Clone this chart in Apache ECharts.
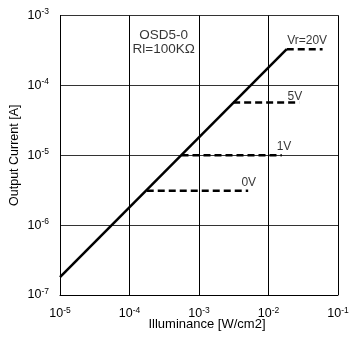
<!DOCTYPE html>
<html><head><meta charset="utf-8">
<script src="https://cdn.jsdelivr.net/npm/echarts@6/dist/echarts.min.js"></script>
<style>html,body{margin:0;padding:0;background:#fff}#c{width:351px;height:339px}</style>
</head><body><div id="c"></div>
<script>
// Main response line (Vr=20V), illuminance [W/cm2] vs current [A]
var mainLine = [[1e-5, 1.8e-7], [0.0183, 3.3e-4]];
// Saturation (dashed) lines
var sat20V = [[0.0183, 3.3e-4], [0.06, 3.3e-4]];
var sat5V = [[3.1e-3, 5.7e-5], [0.0277, 5.7e-5]];
var sat1V = [[5.6e-4, 1e-5], [0.0155, 1e-5]];
var sat0V = [[1.77e-4, 3.1e-6], [5.1e-3, 3.1e-6]];
// Voltage labels [x, y, text]
var voltLabels = [
  [0.036, 4.3e-4, 'Vr=20V'],
  [0.024, 6.9e-5, '5V'],
  [0.0167, 1.32e-5, '1V'],
  [5.2e-3, 4.05e-6, '0V']
];
// Device annotation [x, y, text]
var deviceLabels = [
  [3.1e-4, 5.2e-4, 'OSD5-0'],
  [3.1e-4, 3.3e-4, 'Rl=100KΩ']
];
var xTitle = 'Illuminance [W/cm2]';
var yTitle = 'Output Current [A]';

var font = 'Liberation Sans, Arial, sans-serif';
function pow10(v) {
  var e = Math.round(Math.log10(v));
  return '{b|10}{s|' + e + '}';
}
var rich = {
  b: {fontSize: 12.5, fontFamily: font, color: '#000', lineHeight: 16},
  s: {fontSize: 8.5, fontFamily: font, color: '#000', lineHeight: 16, padding: [0, 0, 7, 0]}
};
function dashSeries(d) {
  return {type: 'line', data: d, symbol: 'none', silent: true,
    lineStyle: {color: '#000', width: 2.5, type: [7, 4]}};
}
function textSeries(arr, size) {
  return {type: 'scatter', symbolSize: 0, silent: true,
    data: arr.map(function (a) { return {value: [a[0], a[1]], name: a[2]}; }),
    label: {show: true, position: 'inside', formatter: function (p) { return p.name; },
      fontSize: size, fontFamily: font, color: '#000'}};
}
var chart = echarts.init(document.getElementById('c'), null, {renderer: 'canvas'});
chart.setOption({
  animation: false,
  backgroundColor: '#fff',
  grid: {left: 60, right: 13, top: 15.5, bottom: 44, containLabel: false, outerBoundsMode: 'none'},
  xAxis: {
    type: 'log', logBase: 10, min: 1e-5, max: 1e-1,
    name: xTitle, nameLocation: 'middle', nameGap: 23, nameMoveOverlap: false,
    nameTextStyle: {fontSize: 13, fontFamily: font, color: '#000', padding: [0, 0, 0, 16]},
    axisLine: {show: true, lineStyle: {color: '#000', width: 1}},
    axisTick: {show: false},
    minorTick: {show: false},
    splitLine: {show: true, lineStyle: {color: '#000', width: 1}},
    axisLabel: {formatter: pow10, rich: rich, margin: 11}
  },
  yAxis: {
    type: 'log', logBase: 10, min: 1e-7, max: 1e-3,
    name: yTitle, nameLocation: 'middle', nameGap: 39, nameRotate: 90, nameMoveOverlap: false,
    nameTextStyle: {fontSize: 12.5, fontFamily: font, color: '#000'},
    axisLine: {show: true, lineStyle: {color: '#000', width: 1}},
    axisTick: {show: false},
    minorTick: {show: false},
    splitLine: {show: true, lineStyle: {color: '#333', width: 1}},
    axisLabel: {formatter: pow10, rich: rich, margin: 11}
  },
  series: [
    {type: 'line', data: mainLine, symbol: 'none', silent: true,
      lineStyle: {color: '#000', width: 2.5}},
    dashSeries(sat20V), dashSeries(sat5V), dashSeries(sat1V), dashSeries(sat0V),
    textSeries(voltLabels, 12),
    textSeries(deviceLabels, 13.5)
  ]
});
</script></body></html>
